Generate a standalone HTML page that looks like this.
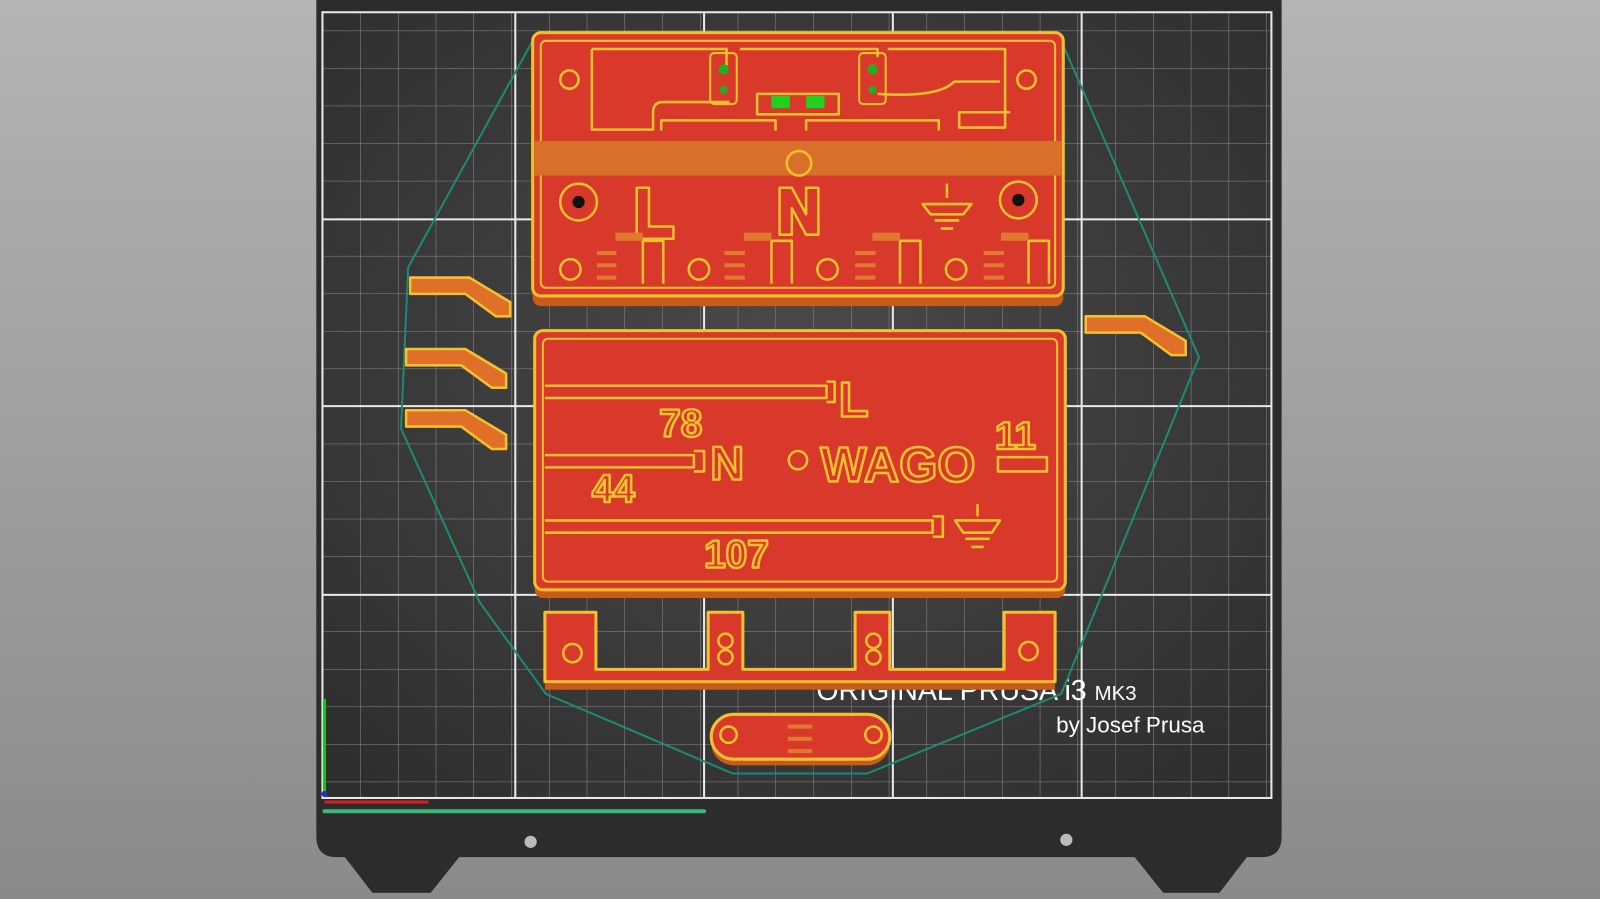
<!DOCTYPE html>
<html><head><meta charset="utf-8"><style>
html,body{margin:0;padding:0;width:1600px;height:899px;overflow:hidden;background:#9a9a9a}
svg{display:block}
</style></head><body>
<svg width="1600" height="899" viewBox="0 0 1568 881" preserveAspectRatio="none" xmlns="http://www.w3.org/2000/svg">
<defs>
<linearGradient id="bg" x1="0" y1="0" x2="0" y2="1"><stop offset="0" stop-color="#b4b4b4"/><stop offset="1" stop-color="#8a8a8a"/></linearGradient>
<radialGradient id="bed" cx="0.5" cy="0.45" r="0.7"><stop offset="0" stop-color="#4a4a4a"/><stop offset="1" stop-color="#2e2e2e"/></radialGradient>
<pattern id="minor" width="37" height="36.8" patternUnits="userSpaceOnUse" x="316" y="30"><path d="M0 0V36.8M0 0H37" stroke="#8c8c8c" stroke-width="1" fill="none"/></pattern>
</defs>
<rect width="1568" height="881" fill="url(#bg)"/>
<!-- bed -->
<path d="M310 0H1256V820Q1256 840 1236 840H1222L1195 875H1140L1112 840H450L422 875H365L338 840H330Q310 840 310 820Z" fill="#2c2c2c"/>
<rect x="316" y="12" width="930" height="770" fill="url(#bed)"/>
<rect x="316" y="12" width="930" height="770" fill="url(#minor)"/>
<g stroke="#e8e8e8" stroke-width="2" fill="none">
<rect x="316" y="12" width="930" height="770"/>
<path d="M505 12V782M690 12V782M875 12V782M1060 12V782M316 215H1246M316 398H1246M316 583H1246"/>
</g>
<circle cx="520" cy="825" r="6" fill="#bbb"/><circle cx="1045" cy="823" r="6" fill="#bbb"/>
<!-- axes -->
<rect x="316" y="793" width="376" height="4" rx="2" fill="#3cb878"/>
<line x1="318" y1="778" x2="318" y2="685" stroke="#20c020" stroke-width="3"/>
<line x1="318" y1="786" x2="420" y2="786" stroke="#d02020" stroke-width="3"/>
<circle cx="318" cy="778" r="3" fill="#2030d0"/>
<!-- text -->
<text x="800" y="686" font-family="Liberation Sans, sans-serif" font-size="28" fill="#fff">ORIGINAL PRUSA i3 <tspan font-size="20">MK3</tspan></text>
<text x="1035" y="718" font-family="Liberation Sans, sans-serif" font-size="22" fill="#fff">by Josef Prusa</text>
<!-- hull -->
<polygon points="522,40 400,262 393,420 470,590 535,680 718,758 850,758 1040,680 1175,350 1040,40" fill="none" stroke="#1e8a70" stroke-width="2"/>
<g stroke-linejoin="round">
<!-- top box -->
<rect x="522" y="42" width="520" height="258" rx="8" fill="#c85a1c"/>
<rect x="522" y="32" width="520" height="258" rx="8" fill="#d8392a" stroke="#f2c12e" stroke-width="3"/>
<rect x="530" y="40" width="504" height="242" rx="5" fill="none" stroke="#f2c12e" stroke-width="2"/>
<rect x="524" y="138" width="516" height="34" fill="#d8702a"/>
<g fill="none" stroke="#f2c12e" stroke-width="2.5">
<path d="M580 48H712V64M580 48V127H640V110Q640 100 650 100H715M725 48H860V56M870 48H985V125H940V110L990 110M860 92Q920 96 935 80H980M648 128V118H760V128M790 128V118H920V128"/>
<rect x="742" y="92" width="80" height="20"/>
<circle cx="558" cy="78" r="9"/><circle cx="1006" cy="78" r="9"/>
<circle cx="567" cy="198" r="18"/><circle cx="998" cy="196" r="18"/>
<circle cx="783" cy="160" r="12"/>
<circle cx="559" cy="264" r="10"/><circle cx="685" cy="264" r="10"/><circle cx="811" cy="264" r="10"/><circle cx="937" cy="264" r="10"/>
<path d="M624 184H636V222H660V234H624Z"/>
<path d="M764 184H776L790 210V184H802V230H790L776 204V230H764Z"/>
<path d="M928 180V194M904 200H952L944 210H912ZM916 216H940M922 224H934"/>
<path d="M630 278V236H650V278M756 278V236H776V278M882 278V236H902V278M1008 278V236H1028V278"/>
</g>
<g fill="#111"><circle cx="567" cy="198" r="6"/><circle cx="998" cy="196" r="6"/></g>
<g stroke="#e07830" stroke-width="4"><path d="M585 248H604M585 260H604M585 272H604M710 248H730M710 260H730M710 272H730M838 248H858M838 260H858M838 272H858M964 248H984M964 260H984M964 272H984"/></g>
<g fill="#e07830"><rect x="603" y="228" width="27" height="8"/><rect x="729" y="228" width="27" height="8"/><rect x="855" y="228" width="27" height="8"/><rect x="981" y="228" width="27" height="8"/></g>
<rect x="756" y="94" width="18" height="12" fill="#20d020"/><rect x="790" y="94" width="18" height="12" fill="#20d020"/>
<g fill="none" stroke="#f2c12e" stroke-width="2"><rect x="696" y="52" width="26" height="50" rx="4"/><rect x="842" y="52" width="26" height="50" rx="4"/></g>
<g fill="#20b020"><circle cx="709" cy="68" r="5"/><circle cx="709" cy="88" r="4"/><circle cx="855" cy="68" r="5"/><circle cx="855" cy="88" r="4"/></g>
<!-- plate -->
<rect x="524" y="332" width="520" height="254" rx="8" fill="#c85a1c"/>
<rect x="524" y="324" width="520" height="254" rx="8" fill="#d8392a" stroke="#f2c12e" stroke-width="3"/>
<rect x="532" y="332" width="504" height="238" rx="5" fill="none" stroke="#f2c12e" stroke-width="2"/>
<g fill="none" stroke="#f2c12e" stroke-width="2.5">
<path d="M534 378H810V390H534M810 374H818V394H810M534 446H680V458H534M680 442H690V462H680M534 510H914V522H534M914 506H924V526H914"/>
<circle cx="782" cy="451" r="9"/>
<path d="M958 494V506M936 510H980L972 522H944ZM946 528H970M952 536H964"/>
<path d="M978 448H1026V462H978Z"/>
</g>
<g font-family="Liberation Sans, sans-serif" font-weight="bold" fill="#d8392a" stroke="#f2c12e" stroke-width="2.5">
<text x="822" y="408" font-size="48">L</text>
<text x="646" y="428" font-size="38">78</text>
<text x="696" y="470" font-size="46">N</text>
<text x="804" y="472" font-size="48">WAGO</text>
<text x="975" y="440" font-size="38">11</text>
<text x="580" y="492" font-size="38">44</text>
<text x="690" y="556" font-size="38">107</text>
</g>
<!-- bracket -->
<path d="M534 608H584V664H694V608H728V664H838V608H872V664H984V608H1034V676H534Z" fill="#c85a1c"/>
<path d="M534 600H584V656H694V600H728V656H838V600H872V656H984V600H1034V668H534Z" fill="#d8392a" stroke="#f2c12e" stroke-width="3"/>
<g fill="none" stroke="#f2c12e" stroke-width="2.5"><circle cx="561" cy="640" r="9"/><circle cx="1008" cy="638" r="9"/><circle cx="711" cy="628" r="7"/><circle cx="711" cy="644" r="7"/><circle cx="856" cy="628" r="7"/><circle cx="856" cy="644" r="7"/></g>
<!-- oval -->
<rect x="697" y="706" width="175" height="44" rx="22" fill="#c85a1c"/>
<rect x="697" y="700" width="175" height="44" rx="22" fill="#d8392a" stroke="#f2c12e" stroke-width="3"/>
<g fill="none" stroke="#f2c12e" stroke-width="2.5"><circle cx="714" cy="720" r="8"/><circle cx="856" cy="720" r="8"/></g>
<g stroke="#e07830" stroke-width="4"><path d="M772 712H796M772 724H796M772 736H796"/></g>
<!-- clips -->
<g fill="#e07028" stroke="#f2c12e" stroke-width="2.5">
<path d="M402 272H460L500 296V310H486L456 288H402Z"/>
<path d="M398 342H456L496 366V380H482L452 358H398Z"/>
<path d="M398 402H456L496 426V440H482L452 418H398Z"/>
<path d="M1064 310H1122L1162 334V348H1148L1118 326H1064Z"/>
</g>
</g>
</svg>
</body></html>
